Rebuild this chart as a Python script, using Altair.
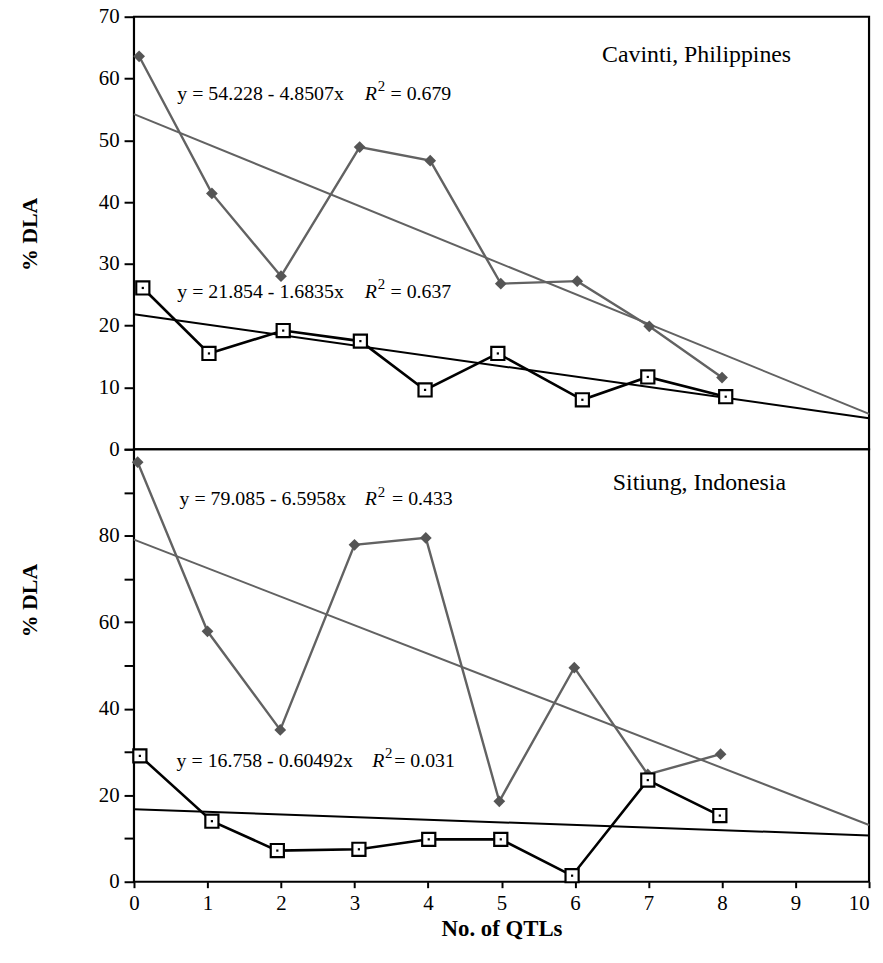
import altair as alt
import pandas as pd

# ---------------- data ----------------
# Cavinti, Philippines (top panel)
top_dia_x = [0.07, 1.06, 2.0, 3.07, 4.03, 4.99, 6.03, 7.01, 8.0]
top_dia_y = [63.6, 41.4, 28.0, 48.9, 46.7, 26.8, 27.2, 19.9, 11.6]
top_sq_x = [0.12, 1.02, 2.03, 3.08, 3.96, 4.95, 6.1, 6.99, 8.05]
top_sq_y = [26.1, 15.5, 19.2, 17.5, 9.6, 15.5, 8.0, 11.7, 8.5]

# Sitiung, Indonesia (bottom panel)
bot_dia_x = [0.05, 1.0, 1.99, 3.0, 3.97, 4.97, 5.99, 6.99, 7.98]
bot_dia_y = [97.0, 57.9, 35.1, 77.9, 79.5, 18.6, 49.5, 24.8, 29.5]
bot_sq_x = [0.08, 1.06, 1.95, 3.06, 4.01, 4.99, 5.96, 6.99, 7.97]
bot_sq_y = [29.1, 14.0, 7.2, 7.5, 9.8, 9.8, 1.4, 23.5, 15.3]

# regression coefficients (intercept, slope) as printed on the chart
top_fit = {"gray": (54.228, -4.8507), "black": (21.854, -1.6835)}
bot_fit = {"gray": (79.085, -6.5958), "black": (16.758, -0.60492)}
fit_x = [0, 10]

# equation labels
eq_panel = ["top", "top", "bottom", "bottom"]
eq_text = ["y = 54.228 - 4.8507x", "y = 21.854 - 1.6835x",
           "y = 79.085 - 6.5958x", "y = 16.758 - 0.60492x"]
eq_x = [0.59, 0.59, 0.62, 0.58]
eq_y = [56.6, 24.5, 87.0, 26.5]
eq_r_x = [3.14, 3.14, 3.14, 3.24]
eq_val = ["= 0.679", "= 0.637", "= 0.433", "= 0.031"]
eq_val_x = [3.49, 3.49, 3.51, 3.54]

site_names = ["Cavinti, Philippines", "Sitiung, Indonesia"]
site_x = [8.94, 8.87]
site_y = [62.6, 90.5]

x_ticks = list(range(0, 11))
top_y_ticks = list(range(0, 75, 5))
bot_y_ticks = list(range(0, 110, 10))

GRAY = "#626262"
FONT = "Liberation Serif"
W, H1, H2 = 741, 436, 436


def panel(dia_x, dia_y, sq_x, sq_y, fit, pname, site_idx, ydomain, yticks,
          label_expr, title_y, show_x):
    dia = pd.DataFrame({"x": dia_x, "y": dia_y})
    sq = pd.DataFrame({"x": sq_x, "y": sq_y})
    fits = pd.DataFrame([
        {"series": s, "x": xv, "a": fit[s][0], "b": fit[s][1]}
        for s in fit for xv in fit_x
    ])
    eq = pd.DataFrame({"panel": eq_panel, "text": eq_text, "x": eq_x, "y": eq_y,
                       "rx": eq_r_x, "val": eq_val, "vx": eq_val_x})
    eq = eq[eq["panel"] == pname]
    site = pd.DataFrame({"text": [site_names[site_idx]], "x": [site_x[site_idx]],
                         "y": [site_y[site_idx]]})

    if show_x:
        xaxis = alt.Axis(values=x_ticks, format="d", title="No. of QTLs", grid=False,
                         domain=False, tickSize=6, labelPadding=5,
                         labelAlign={"condition": {"test": "datum.value >= 10",
                                                   "value": "right"},
                                     "value": "center"},
                         labelFontSize=21, titleFontSize=23, titlePadding=4,
                         titleFontWeight="bold")
    else:
        xaxis = None
    xs = alt.X("x:Q", scale=alt.Scale(domain=[0, 10], nice=False, zero=False),
               axis=xaxis)
    ys = alt.Y("y:Q", scale=alt.Scale(domain=ydomain, nice=False),
               axis=alt.Axis(values=yticks, labelExpr=label_expr, title="% DLA",
                             grid=False, domain=False, tickSize=10,
                             labelPadding=5, labelFontSize=21, titleFontSize=22,
                             titleFontWeight="bold", titleX=-93, titleY=title_y))

    fit_lines = alt.Chart(fits).transform_calculate(
        y="datum.a + datum.b * datum.x"
    ).mark_line(strokeWidth=2).encode(
        x=xs, y=ys, detail="series:N",
        color=alt.Color("series:N", scale=alt.Scale(domain=["gray", "black"],
                                                   range=[GRAY, "black"]),
                        legend=None))

    dia_line = alt.Chart(dia).mark_line(color=GRAY, strokeWidth=2.4).encode(x=xs, y=ys)
    dia_pts = alt.Chart(dia).mark_point(shape="diamond", filled=True, color="#555555",
                                        size=140, opacity=1).encode(x=xs, y=ys)
    sq_line = alt.Chart(sq).mark_line(color="black", strokeWidth=2.6).encode(x=xs, y=ys)
    sq_pts = alt.Chart(sq).mark_point(shape="square", filled=False, fill="white",
                                      fillOpacity=1, stroke="black", strokeWidth=2.2,
                                      size=175, opacity=1).encode(x=xs, y=ys)
    sq_dots = alt.Chart(sq).mark_point(shape="square", filled=True, color="black",
                                       size=5, opacity=1).encode(x=xs, y=ys)

    eq_main = alt.Chart(eq).mark_text(align="left", baseline="alphabetic", font=FONT,
                                      fontSize=20, color="black").encode(
        x=alt.X("x:Q", scale=alt.Scale(domain=[0, 10], nice=False)),
        y=alt.Y("y:Q", scale=alt.Scale(domain=ydomain, nice=False)), text="text:N")
    eq_r = alt.Chart(eq).mark_text(align="left", baseline="alphabetic", font=FONT,
                                   fontSize=20, fontStyle="italic", color="black",
                                   text="R").encode(
        x=alt.X("rx:Q", scale=alt.Scale(domain=[0, 10], nice=False)),
        y=alt.Y("y:Q", scale=alt.Scale(domain=ydomain, nice=False)))
    eq_sup = alt.Chart(eq).mark_text(align="left", baseline="alphabetic", font=FONT,
                                     fontSize=15, color="black", text="2",
                                     dx=13, dy=-9).encode(
        x=alt.X("rx:Q", scale=alt.Scale(domain=[0, 10], nice=False)),
        y=alt.Y("y:Q", scale=alt.Scale(domain=ydomain, nice=False)))
    eq_v = alt.Chart(eq).mark_text(align="left", baseline="alphabetic", font=FONT,
                                   fontSize=20, color="black").encode(
        x=alt.X("vx:Q", scale=alt.Scale(domain=[0, 10], nice=False)),
        y=alt.Y("y:Q", scale=alt.Scale(domain=ydomain, nice=False)), text="val:N")
    site_t = alt.Chart(site).mark_text(align="right", baseline="alphabetic", font=FONT,
                                       fontSize=24, color="black").encode(
        x=alt.X("x:Q", scale=alt.Scale(domain=[0, 10], nice=False)),
        y=alt.Y("y:Q", scale=alt.Scale(domain=ydomain, nice=False)), text="text:N")

    return alt.layer(fit_lines, dia_line, sq_line, dia_pts, sq_pts, sq_dots,
                     eq_main, eq_r, eq_sup, eq_v, site_t)


top = panel(top_dia_x, top_dia_y, top_sq_x, top_sq_y, top_fit, "top", 0, [0, 70],
            top_y_ticks, "datum.value % 10 == 0 ? datum.label : ''", 219, False
            ).properties(width=W, height=H1)
bottom = panel(bot_dia_x, bot_dia_y, bot_sq_x, bot_sq_y, bot_fit, "bottom", 1, [0, 100],
               bot_y_ticks,
               "(datum.value % 20 == 0 && datum.value < 100) ? datum.label : ''",
               152, True).properties(width=W, height=H2)

chart = alt.vconcat(top, bottom, spacing=0, bounds="flush").resolve_scale(
    x="independent", y="independent"
).properties(
    padding={"left": 9, "top": -8, "right": 0, "bottom": 0},
).configure(font=FONT).configure_view(
    stroke="black", strokeWidth=2.2
).configure_axis(
    labelFont=FONT, titleFont=FONT, labelColor="black", titleColor="black",
    tickColor="black", tickWidth=2
)

chart.save("out.html", embed_options={"renderer": "svg", "actions": False})
